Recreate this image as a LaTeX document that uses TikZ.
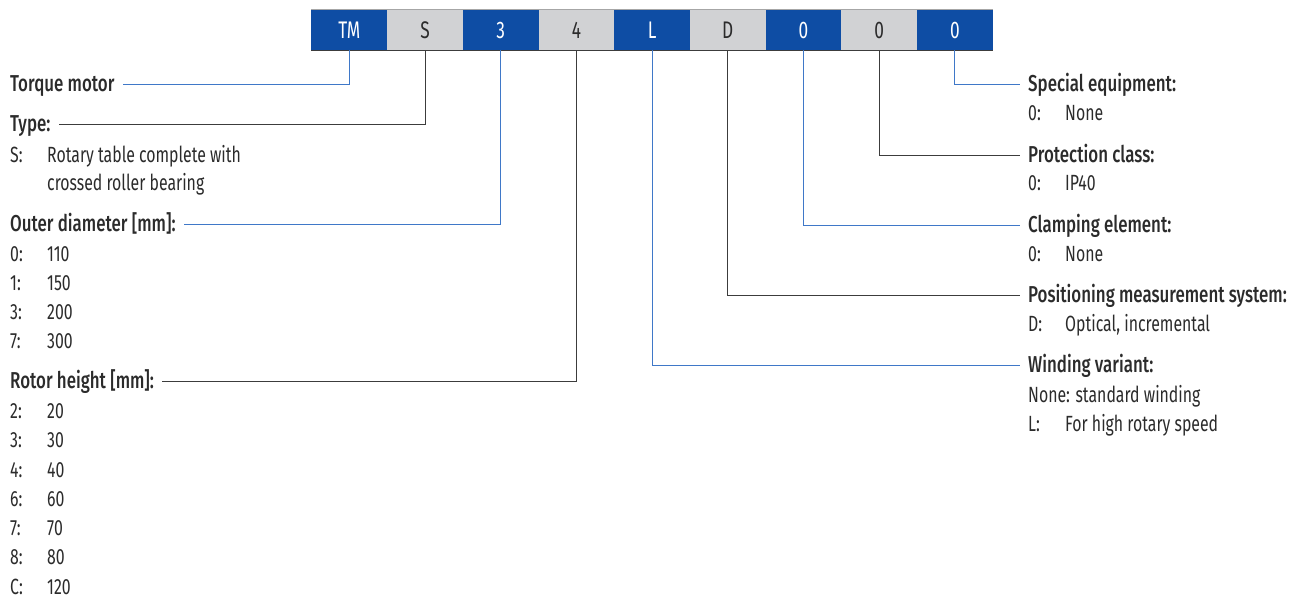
\documentclass[tikz,border=0pt]{standalone}
\usepackage{fontspec}
\setmainfont{Fira Sans}[FakeStretch=0.72,BoldFont={Fira Sans Medium},BoldFeatures={FakeStretch=0.735}]
\usetikzlibrary{positioning}
\definecolor{codeblue}{HTML}{0E4DA4}
\definecolor{codegray}{HTML}{D1D2D4}
\definecolor{linkblue}{HTML}{3F78C8}
\definecolor{linkgray}{HTML}{3C3C3C}
\definecolor{ink}{HTML}{2B2B2B}
\newcommand{\kv}[2]{\makebox[37pt][l]{#1}#2}
\tikzset{digit/.style={minimum width=75.7pt,minimum height=40pt,inner sep=0pt,font=\fontsize{24}{28}\selectfont}, bluedigit/.style={digit,fill=codeblue,text=white}, graydigit/.style={digit,fill=codegray,text=ink}, head/.style={anchor=west,inner sep=0pt,text height=15.5pt,text depth=0pt,text=ink,font=\fontsize{23}{26}\selectfont\bfseries}, item/.style={anchor=west,inner sep=0pt,text height=15pt,text depth=0pt,text=ink,font=\fontsize{22}{26}\selectfont}, bluelink/.style={draw=linkblue,line width=0.9pt,shorten >=8pt}, graylink/.style={draw=linkgray,line width=0.9pt,shorten >=8pt}}

\begin{document}
\begin{tikzpicture}[x=1pt,y=1pt]
\useasboundingbox (0,0) rectangle (1298,-598);
% type code
\node[bluedigit] (tm) at (349.3,-30) {TM};
\node[graydigit] (ty) at (425.0,-30) {S};
\node[bluedigit] (od) at (500.7,-30) {3};
\node[graydigit] (rh) at (576.4,-30) {4};
\node[bluedigit] (wv) at (652.1,-30) {L};
\node[graydigit] (pm) at (727.8,-30) {D};
\node[bluedigit] (ce) at (803.5,-30) {0};
\node[graydigit] (pc) at (879.2,-30) {0};
\node[bluedigit] (se) at (954.9,-30) {0};
\draw[draw=gray!70,line width=0.8pt] (tm.north west) -- (se.north east);
\draw[draw=linkgray,line width=0.8pt] (tm.south west) -- (se.south east);
% left side
\node[head] (htm) at (10,-84) {Torque motor};
\node[head] (hty) at (10,-124) {Type:};
\node[item] (ty1) at (10,-155) {\kv{S:}{Rotary table complete with}};
\node[item] (ty2) at (10,-183) {\kv{}{crossed roller bearing}};
\node[head] (hod) at (10,-224) {Outer diameter [mm]:};
\node[item] (od1) at (10,-254) {\kv{0:}{110}};
\node[item] (od2) at (10,-283) {\kv{1:}{150}};
\node[item] (od3) at (10,-312) {\kv{3:}{200}};
\node[item] (od4) at (10,-341) {\kv{7:}{300}};
\node[head] (hrh) at (10,-381) {Rotor height [mm]:};
\node[item] (rh1) at (10,-411) {\kv{2:}{20}};
\node[item] (rh2) at (10,-440) {\kv{3:}{30}};
\node[item] (rh3) at (10,-470) {\kv{4:}{40}};
\node[item] (rh4) at (10,-499) {\kv{6:}{60}};
\node[item] (rh5) at (10,-528) {\kv{7:}{70}};
\node[item] (rh6) at (10,-557) {\kv{8:}{80}};
\node[item] (rh7) at (10,-587) {\kv{C:}{120}};
% right side
\node[head] (hse) at (1028,-84) {Special equipment:};
\node[item] (se1) at (1028,-113) {\kv{0:}{None}};
\node[head] (hpc) at (1028,-155) {Protection class:};
\node[item] (pc1) at (1028,-183) {\kv{0:}{IP40}};
\node[head] (hce) at (1028,-225) {Clamping element:};
\node[item] (ce1) at (1028,-254) {\kv{0:}{None}};
\node[head] (hpm) at (1028,-295) {Positioning measurement system:};
\node[item] (pm1) at (1028,-324) {\kv{D:}{Optical, incremental}};
\node[head] (hwv) at (1028,-365) {Winding variant:};
\node[item] (wv1) at (1028,-395) {None: standard winding};
\node[item] (wv2) at (1028,-424) {\kv{L:}{For high rotary speed}};
% connectors
\draw[bluelink] (tm.south) |- (htm.east);
\draw[graylink] (ty.south) |- (hty.east);
\draw[bluelink] (od.south) |- (hod.east);
\draw[graylink] (rh.south) |- (hrh.east);
\draw[bluelink] (wv.south) |- (hwv.west);
\draw[graylink] (pm.south) |- (hpm.west);
\draw[bluelink] (ce.south) |- (hce.west);
\draw[graylink] (pc.south) |- (hpc.west);
\draw[bluelink] (se.south) |- (hse.west);
\end{tikzpicture}
\end{document}
